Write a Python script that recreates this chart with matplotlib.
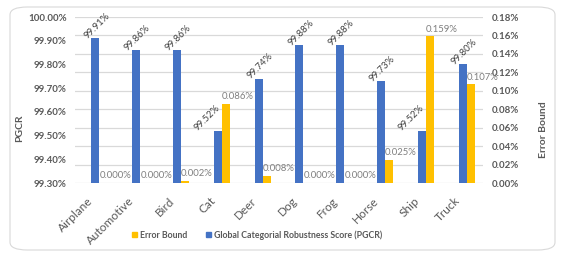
import numpy as np
import matplotlib
matplotlib.use("Agg")
import matplotlib.pyplot as plt
import matplotlib.transforms as mtransforms
from matplotlib.patches import FancyBboxPatch

# datos
categorias = ["Airplane", "Automotive", "Bird", "Cat", "Deer", "Dog", "Frog", "Horse", "Ship", "Truck"]
pgcr = [99.91, 99.86, 99.86, 99.52, 99.74, 99.88, 99.88, 99.73, 99.52, 99.80]
error_bound = [0.000, 0.000, 0.002, 0.086, 0.008, 0.000, 0.000, 0.025, 0.159, 0.107]
ticks_izq = [99.30, 99.40, 99.50, 99.60, 99.70, 99.80, 99.90, 100.00]
ticks_der = [0.00, 0.02, 0.04, 0.06, 0.08, 0.10, 0.12, 0.14, 0.16, 0.18]

azul = "#4472C4"
amarillo = "#FFC000"
gris = "#595959"
gris_oscuro = "#404040"
gris_claro = "#7f7f7f"

plt.rcParams["font.family"] = ["Lato", "DejaVu Sans"]

fig = plt.figure(figsize=(5.8, 2.6), dpi=100)
fig.patch.set_facecolor("white")

# marco redondeado
marco = FancyBboxPatch((10 / 580, 10 / 260), 545 / 580, 243 / 260,
                       boxstyle="round,pad=0,rounding_size=0.03",
                       transform=fig.transFigure, facecolor="none",
                       edgecolor="#d9d9d9", linewidth=0.8)
fig.patches.append(marco)

ax = fig.add_axes([0.1293, 0.296, 0.7035, 0.6386])
ax2 = ax.twinx()

x = np.arange(len(categorias))
w = 0.2
y_min, y_max = 99.30, 100.00
e_max = 0.18

# barras de error (eje derecho)
ax2.bar(x + w, error_bound, width=w, color=amarillo, zorder=3)
ax2.set_ylim(0, e_max)
ax2.set_yticks(ticks_der)
ax2.set_yticklabels(["{:.2f}%".format(t) for t in ticks_der])
ax2.grid(axis="y", color="#d9d9d9", linewidth=0.9, zorder=0)
ax2.set_axisbelow(True)
for xi, v in zip(x, error_bound):
    ax2.annotate("{:.3f}%".format(v), (xi + w, v), xytext=(8.5, 2),
                 textcoords="offset points", ha="center", va="bottom",
                 fontsize=6.8, color=gris_claro)

# barras PGCR (eje izquierdo)
ax.bar(x, pgcr, width=w, color=azul, zorder=3)
ax.set_ylim(y_min, y_max)
ax.set_yticks(ticks_izq)
ax.set_yticklabels(["{:.2f}%".format(t) for t in ticks_izq])
for xi, v, e in zip(x, pgcr, error_bound):
    # si la barra amarilla es más alta, la etiqueta se corre a la izquierda
    dx = -8 if e / e_max > (v - y_min) / (y_max - y_min) else 1
    ax.annotate("{:.2f}%".format(v), (xi, v), xytext=(dx, 9),
                textcoords="offset points", ha="center", va="center",
                rotation=45, fontsize=6.8, color=gris_oscuro)

ax.set_zorder(ax2.get_zorder() + 1)
ax.patch.set_visible(False)
ax.set_xlim(-0.5, len(categorias) - 0.5)
ax.set_xticks(x)
ax.set_xticklabels(categorias, rotation=45, ha="right", va="center",
                   rotation_mode="anchor", fontsize=8.5, color=gris)

for a in (ax, ax2):
    for s in a.spines.values():
        s.set_visible(False)
    a.tick_params(length=0, labelsize=7, labelcolor=gris)
for lab in ax.get_yticklabels() + ax2.get_yticklabels():
    lab.set_fontweight("bold")
ax.tick_params(axis="x", pad=11.5, labelsize=8.5)
ax.tick_params(axis="y", pad=6)
ax2.tick_params(axis="y", pad=6)

# correr las etiquetas del eje x un poco a la izquierda (después de tick_params)
desplaza = mtransforms.ScaledTranslation(-4 / 100, 0, fig.dpi_scale_trans)
for lab in ax.get_xticklabels():
    lab.set_transform(lab.get_transform() + desplaza)

fig.text(20 / 580, 1 - 128 / 260, "PGCR", rotation=90, ha="center", va="center",
         fontsize=7.5, fontweight="bold", color=gris)
fig.text(543 / 580, 1 - 130 / 260, "Error Bound", rotation=90, ha="center", va="center",
         fontsize=7.5, fontweight="bold", color=gris)

# leyenda
h1 = plt.Rectangle((0, 0), 1, 1, color=amarillo)
h2 = plt.Rectangle((0, 0), 1, 1, color=azul)
leg = fig.legend([h1, h2], ["Error Bound", "Global Categorial Robustness Score (PGCR)"],
                 loc="center", bbox_to_anchor=(257 / 580, 1 - 235 / 260), ncol=2,
                 frameon=False, fontsize=6.3, handlelength=0.6, handleheight=0.6,
                 columnspacing=2.2, handletextpad=0.3)
for t in leg.get_texts():
    t.set_color(gris)
    t.set_fontweight("bold")

fig.savefig("out.png", dpi=100)
